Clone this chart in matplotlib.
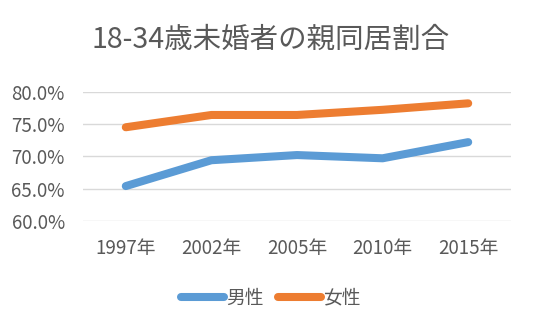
import matplotlib
matplotlib.use("Agg")
import matplotlib.pyplot as plt
from matplotlib.ticker import FuncFormatter

plt.rcParams['font.family'] = ['Noto Sans CJK JP', 'DejaVu Sans']

years = ["1997年", "2002年", "2005年", "2010年", "2015年"]
male = [65.4, 69.4, 70.2, 69.7, 72.2]
female = [74.5, 76.4, 76.4, 77.2, 78.2]
y_ticks = [60, 65, 70, 75, 80]

text_color = "#595959"
grid_color = "#D9D9D9"

fig = plt.figure(figsize=(5.41, 3.26), dpi=100)
ax = fig.add_axes([83 / 541, 1 - 221 / 326, (511 - 83) / 541, (221 - 91.7) / 326])

x = range(len(years))
ax.plot(x, male, color="#5B9BD5", lw=5.8, solid_capstyle="round", solid_joinstyle="round", label="男性", zorder=3)
ax.plot(x, female, color="#ED7D31", lw=5.8, solid_capstyle="round", solid_joinstyle="round", label="女性", zorder=3)

ax.set_xlim(-0.5, len(years) - 0.5)
ax.set_ylim(60, 80)
ax.set_yticks(y_ticks)
ax.yaxis.set_major_formatter(FuncFormatter(lambda v, p: f"{v:.1f}%"))
ax.set_xticks(list(x))
ax.set_xticklabels(years)
ax.grid(axis="y", color=grid_color, lw=1.0)
ax.set_axisbelow(True)
for s in ax.spines.values():
    s.set_visible(False)
ax.tick_params(length=0, colors=text_color, labelsize=13.5)
ax.tick_params(axis="x", pad=12)
ax.tick_params(axis="y", pad=13)

fig.text(0.5, 1 - 40 / 326, "18-34歳未婚者の親同居割合", ha="center", va="center",
         fontsize=20.5, color=text_color)

leg = fig.legend(loc="center", bbox_to_anchor=(0.5, 1 - 298 / 326), ncol=2, frameon=False,
                 fontsize=13.5, handlelength=2.3, handletextpad=0.1, columnspacing=0.75)
for t in leg.get_texts():
    t.set_color(text_color)

fig.savefig("out.png", dpi=100)
